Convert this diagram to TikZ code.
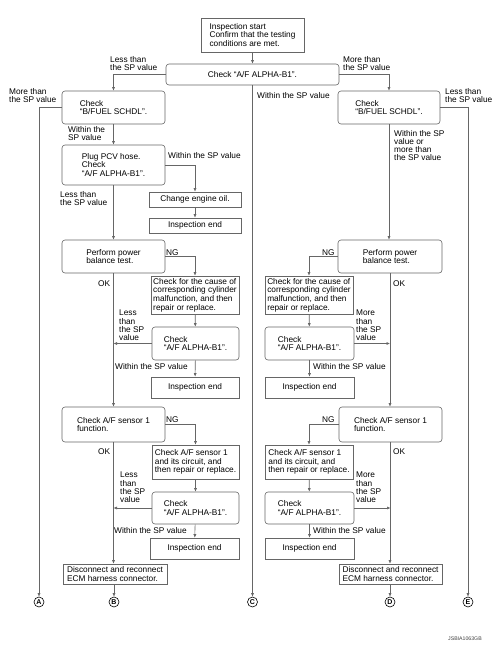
\documentclass[tikz,border=0pt]{standalone}
\usepackage{fontspec}
\setmainfont{Liberation Sans}
\usetikzlibrary{arrows.meta}

\begin{document}
\begin{tikzpicture}[x=1pt, y=-1pt,
    every node/.style={font=\fontsize{8.3}{8.7}\selectfont},
    rbox/.style={rectangle, draw=black!60, line width=0.6pt, rounded corners=3pt, align=left, inner sep=1.5pt},
    sbox/.style={rectangle, draw=black!60, line width=0.6pt, align=left, inner sep=1.5pt},
    lbl/.style={anchor=north west, align=left, inner sep=0pt, font=\fontsize{8.3}{8.1}\selectfont},
    line/.style={draw=black!60, line width=0.6pt},
    arr/.style={line, -{Latex[length=3.5pt,width=3pt]}},
    term/.style={circle, draw=black, line width=0.6pt, inner sep=0pt, minimum size=10pt, font=\fontsize{7}{7}\selectfont\bfseries}]

    \useasboundingbox[fill=white] (0,0) rectangle (502,656);

    % top of the chart
    \node[sbox, minimum width=103pt, minimum height=34pt] (start) at (252.5,35) {Inspection start\\Confirm that the testing\\conditions are met.};
    \node[rbox, minimum width=173pt, minimum height=21pt, align=center] (alpha) at (252.5,74.5) {Check “A/F ALPHA-B1”.};

    % left column
    \node[rbox, minimum width=103pt, minimum height=33pt] (fuelL) at (113.5,107.5) {Check\\“B/FUEL SCHDL”.};
    \node[rbox, minimum width=103pt, minimum height=40pt] (pcv) at (113.5,165) {Plug PCV hose.\\Check\\“A/F ALPHA-B1”.};
    \node[sbox, minimum width=92pt, minimum height=15pt, align=center] (oil) at (195,199.5) {Change engine oil.};
    \node[sbox, minimum width=92pt, minimum height=15pt, align=center] (endA) at (195,225.5) {Inspection end};
    \node[rbox, minimum width=103pt, minimum height=33pt] (pwrL) at (113.5,256.5) {Perform power\\balance test.};
    \node[sbox, minimum width=88pt, minimum height=38pt] (cylL) at (195,295) {Check for the cause of\\corresponding cylinder\\malfunction, and then\\repair or replace.};
    \node[rbox, minimum width=87pt, minimum height=33pt] (chkL1) at (195.5,343.5) {Check\\“A/F ALPHA-B1”.};
    \node[sbox, minimum width=88pt, minimum height=21pt, align=center] (endL1) at (195,387.5) {Inspection end};
    \node[rbox, minimum width=103pt, minimum height=35pt] (senL) at (113.5,424.5) {Check A/F sensor 1\\function.};
    \node[sbox, minimum width=87pt, minimum height=34pt] (cirL) at (195.5,462) {Check A/F sensor 1\\and its circuit, and\\then repair or replace.};
    \node[rbox, minimum width=87pt, minimum height=32pt] (chkL2) at (195.5,508) {Check\\“A/F ALPHA-B1”.};
    \node[sbox, minimum width=89pt, minimum height=21pt, align=center] (endL2) at (194.5,548.5) {Inspection end};
    \node[sbox, minimum width=104pt, minimum height=20pt] (ecmL) at (115,574) {Disconnect and reconnect\\ECM harness connector.};

    % right column
    \node[rbox, minimum width=102pt, minimum height=33pt] (fuelR) at (389,107.5) {Check\\“B/FUEL SCHDL”.};
    \node[rbox, minimum width=104pt, minimum height=33pt] (pwrR) at (390,256.5) {Perform power\\balance test.};
    \node[sbox, minimum width=88pt, minimum height=38pt] (cylR) at (309,295) {Check for the cause of\\corresponding cylinder\\malfunction, and then\\repair or replace.};
    \node[rbox, minimum width=89pt, minimum height=33pt] (chkR1) at (309.5,343.5) {Check\\“A/F ALPHA-B1”.};
    \node[sbox, minimum width=89pt, minimum height=21pt, align=center] (endR1) at (309.5,387.5) {Inspection end};
    \node[rbox, minimum width=103pt, minimum height=35pt] (senR) at (390.5,424.5) {Check A/F sensor 1\\function.};
    \node[sbox, minimum width=88pt, minimum height=34pt] (cirR) at (309,462) {Check A/F sensor 1\\and its circuit, and\\then repair or replace.};
    \node[rbox, minimum width=89pt, minimum height=32pt] (chkR2) at (309.5,508) {Check\\“A/F ALPHA-B1”.};
    \node[sbox, minimum width=89pt, minimum height=21pt, align=center] (endR2) at (309.5,548.5) {Inspection end};
    \node[sbox, minimum width=103pt, minimum height=20pt] (ecmR) at (390.5,574) {Disconnect and reconnect\\ECM harness connector.};

    % exits
    \node[term] (exA) at (39,602) {A};
    \node[term] (exB) at (114,602) {B};
    \node[term] (exC) at (252.5,602) {C};
    \node[term] (exD) at (390,602) {D};
    \node[term] (exE) at (468,602) {E};

    % branch labels
    \node[lbl] (lLess) at (110,56) {Less than\\the SP value};
    \node[lbl] (lMore) at (343,56) {More than\\the SP value};
    \node[lbl] (lMoreA) at (9,88) {More than\\the SP value};
    \node[lbl] (lWithC) at (257,92) {Within the SP value};
    \node[lbl] (lLessE) at (445,88) {Less than\\the SP value};
    \node[lbl] (lWithL) at (68,126) {Within the\\SP value};
    \node[lbl] (lWithR) at (394,130) {Within the SP\\value or\\more than\\the SP value};
    \node[lbl] (lWithO) at (168,152) {Within the SP value};
    \node[lbl] (lLessP) at (60,191) {Less than\\the SP value};
    \node[lbl] (ngL1) at (166,250) {NG};
    \node[lbl] (ngR1) at (322,250) {NG};
    \node[lbl] (okL1) at (98,280) {OK};
    \node[lbl] (okR1) at (393,280) {OK};
    \node[lbl] (lLessL1) at (119,310) {Less\\than\\the SP\\value};
    \node[lbl] (lMoreR1) at (356,310) {More\\than\\the SP\\value};
    \node[lbl] (lWithL1) at (115,363) {Within the SP value};
    \node[lbl] (lWithR1) at (313,363) {Within the SP value};
    \node[lbl] (ngL2) at (166,416) {NG};
    \node[lbl] (ngR2) at (322,416) {NG};
    \node[lbl] (okL2) at (98,448) {OK};
    \node[lbl] (okR2) at (393,448) {OK};
    \node[lbl] (lLessL2) at (120,472) {Less\\than\\the SP\\value};
    \node[lbl] (lMoreR2) at (356,472) {More\\than\\the SP\\value};
    \node[lbl] (lWithL2) at (114,527) {Within the SP value};
    \node[lbl] (lWithR2) at (313,527) {Within the SP value};
    \node[lbl, text=black!75, font=\fontsize{5.2}{6}\selectfont] (code) at (448,637) {JSBIA1063GB};

    % connectors, top
    \draw[arr] (start) -- (alpha);
    \draw[arr] (alpha.west) -| (fuelL.north);
    \draw[arr] (alpha.east) -| (fuelR.north);
    \draw[arr] (alpha.south) -- (exC.north);
    \draw[arr] (fuelL.west) -| (exA.north);
    \draw[arr] (fuelR.east) -| (exE.north);

    % connectors, left
    \draw[arr] (fuelL) -- (pcv);
    \draw[arr] (pcv.east) -| (oil.north);
    \draw[arr] (oil) -- (endA);
    \draw[arr] (pcv) -- (pwrL);
    \draw[arr] (pwrL.east) -| (cylL.north);
    \draw[arr] (cylL) -- (chkL1);
    \draw[arr] (chkL1.west) -- (chkL1.west -| pwrL.south);
    \draw[arr] (chkL1) -- (endL1);
    \draw[arr] (pwrL) -- (senL);
    \draw[arr] (senL.east) -| (cirL.north);
    \draw[arr] (cirL) -- (chkL2);
    \draw[arr] (chkL2.west) -- (chkL2.west -| senL.south);
    \draw[arr] (chkL2) -- (endL2);
    \draw[arr] (senL.south) -- (senL.south |- ecmL.north);
    \draw[arr] (ecmL.south -| exB) -- (exB.north);

    % connectors, right
    \draw[arr] (fuelR.south) -- (fuelR.south |- pwrR.north);
    \draw[arr] (pwrR.west) -| (cylR.north);
    \draw[arr] (cylR) -- (chkR1);
    \draw[arr] (chkR1.east) -- (chkR1.east -| pwrR.south);
    \draw[arr] (chkR1) -- (endR1);
    \draw[arr] (pwrR.south) -- (pwrR.south |- senR.north);
    \draw[arr] (senR.west) -| (cirR.north);
    \draw[arr] (cirR) -- (chkR2);
    \draw[arr] (chkR2.east) -- (chkR2.east -| senR.south);
    \draw[arr] (chkR2) -- (endR2);
    \draw[arr] (pwrR.south |- senR.south) -- (pwrR.south |- ecmR.north);
    \draw[arr] (ecmR.south -| exD) -- (exD.north);
\end{tikzpicture}
\end{document}
